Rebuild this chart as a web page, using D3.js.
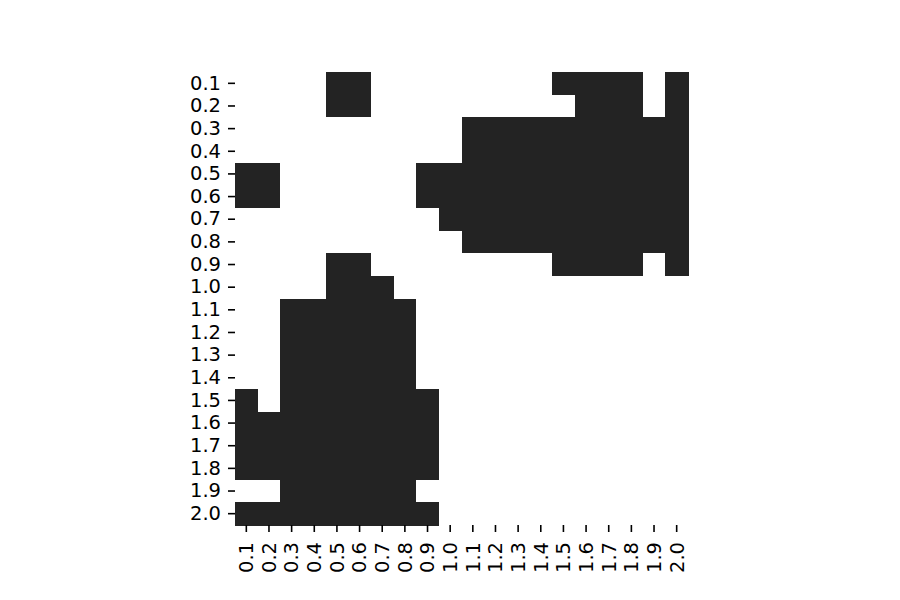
<!DOCTYPE html>
<html><head><meta charset="utf-8">
<script src="https://cdn.jsdelivr.net/npm/d3@7"></script>
<style>body{margin:0;background:#fff}</style>
</head><body><svg id="c" width="900" height="600"></svg>
<script>
const xLabels = ["0.1","0.2","0.3","0.4","0.5","0.6","0.7","0.8","0.9","1.0","1.1","1.2","1.3","1.4","1.5","1.6","1.7","1.8","1.9","2.0"];
const yLabels = ["0.1","0.2","0.3","0.4","0.5","0.6","0.7","0.8","0.9","1.0","1.1","1.2","1.3","1.4","1.5","1.6","1.7","1.8","1.9","2.0"];
// each row: 20 binary values (columns 0.1 .. 2.0)
const rows = [
"00001100000000111101",
"00001100000000011101",
"00000000001111111111",
"00000000001111111111",
"11000000111111111111",
"11000000111111111111",
"00000000011111111111",
"00000000001111111111",
"00001100000000111101",
"00001110000000000000",
"00111111000000000000",
"00111111000000000000",
"00111111000000000000",
"00111111000000000000",
"10111111100000000000",
"11111111100000000000",
"11111111100000000000",
"11111111100000000000",
"00111111000000000000",
"11111111100000000000"
];
const cells = [];
rows.forEach((r,i)=>r.split("").forEach((v,j)=>cells.push({x:xLabels[j],y:yLabels[i],v:+v})));

const svg = d3.select("#c");
const x = d3.scaleBand().domain(xLabels).range([235,688]);
const y = d3.scaleBand().domain(yLabels).range([72,525]);
const color = d3.scaleOrdinal().domain([0,1]).range(["#ffffff","#232323"]);

svg.append("g").attr("shape-rendering","crispEdges").selectAll("rect").data(cells).join("rect")
  .attr("x",d=>x(d.x)).attr("y",d=>y(d.y))
  .attr("width",x.bandwidth()+0.6).attr("height",y.bandwidth()+0.6)
  .attr("fill",d=>color(d.v));

const font = "DejaVu Sans";
const ya = svg.append("g").attr("transform","translate(235,0)")
  .call(d3.axisLeft(y).tickSize(7).tickPadding(7));
ya.select(".domain").remove();
ya.selectAll("line").attr("stroke","#000").attr("stroke-width",1.6);
ya.selectAll("text").attr("font-family",font).attr("font-size","19.5px").attr("fill","#000");

const xa = svg.append("g").attr("transform","translate(0,525)")
  .call(d3.axisBottom(x).tickSize(7).tickPadding(7));
xa.select(".domain").remove();
xa.selectAll("line").attr("stroke","#000").attr("stroke-width",1.6);
xa.selectAll("text").attr("font-family",font).attr("font-size","19.5px").attr("fill","#000")
  .attr("transform","rotate(-90)").attr("text-anchor","end")
  .attr("x",-17).attr("y",0).attr("dy","0.35em");
</script></body></html>
